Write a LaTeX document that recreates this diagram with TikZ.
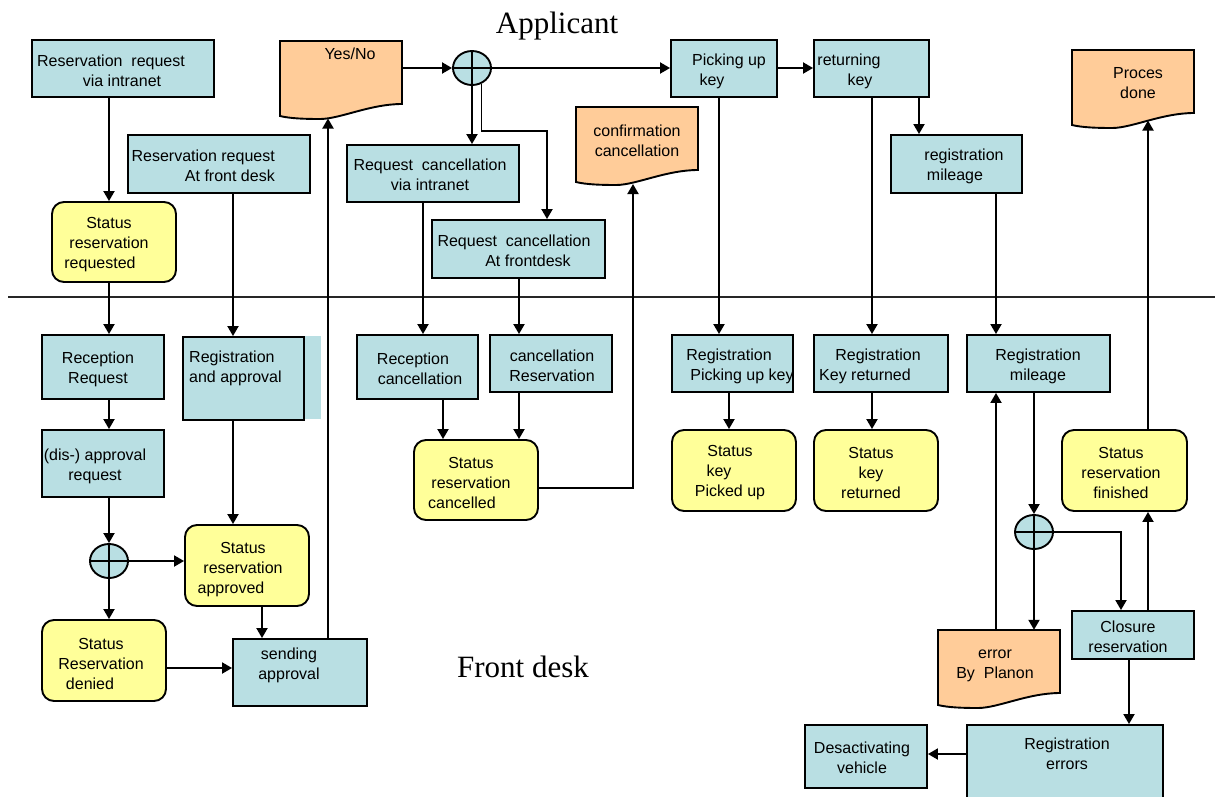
\documentclass[tikz,border=0pt]{standalone}
\usepackage{fontspec}
\setmainfont{Liberation Sans}
\newfontfamily\serifttl{Liberation Serif}
\usetikzlibrary{arrows.meta,shapes.geometric,fit}

\definecolor{boxblue}{RGB}{185,223,227}
\definecolor{stateyellow}{RGB}{255,255,153}
\definecolor{docorange}{RGB}{255,204,153}

% horizontal filler used to nudge single lines inside centred text
\newcommand\gap[1]{\rule{#1}{0pt}}

% document symbol: name, left x, top y (wavy lower edge)
\newcommand\docshape[3]{%
  \begin{scope}[shift={(#2,#3)}]
    \draw[docfill] (0,0) -- (122,0) -- (122,63)
      .. controls (90,63) and (60,78) .. (40,78)
      .. controls (25,78) and (10,77.5) .. (0,75) -- cycle;
    \node[inner sep=0pt, minimum width=122pt, minimum height=75pt] (#1) at (61,37.5) {};
  \end{scope}}

\begin{document}
\begin{tikzpicture}[x=1pt,y=-1pt,
  pbox/.style={draw, line width=1.9pt, fill=boxblue, inner sep=0pt},
  sbox/.style={draw, line width=1.9pt, fill=stateyellow, rounded corners=12pt, inner sep=0pt},
  docfill/.style={line width=1.9pt, fill=docorange},
  gw/.style={ellipse, draw, line width=1.9pt, fill=boxblue, minimum width=38pt,
    minimum height=34pt, inner sep=0pt,
    path picture={\draw[line width=1.9pt]
      (path picture bounding box.north) -- (path picture bounding box.south)
      (path picture bounding box.west) -- (path picture bounding box.east);}},
  txt/.style={inner sep=0pt, align=center, font=\fontsize{16}{20}\selectfont},
  ttl/.style={inner sep=0pt, anchor=base, font=\serifttl\fontsize{31}{36}\selectfont},
  arr/.style={line width=1.9pt, -{Triangle[length=10pt,width=11pt]}},
  lane/.style={line width=1.5pt, black!85},
]
\useasboundingbox (0,0) rectangle (1215,796);
\fill[white] (0,0) rectangle (1215,796);
\clip (0,0) rectangle (1215,796);

% ---------- swimlane titles and divider ----------
\node[ttl] (applicant) at (557,33) {Applicant};
\node[ttl] (frontdesk) at (523,677) {Front desk};
\coordinate (lane-l) at (8,297);
\coordinate (lane-r) at (1215,297);
\draw[lane] (lane-l) -- (lane-r);

% ---------- applicant lane ----------
\node[pbox, fit={(32,40)(214,97)}] (r1) {};
\node[txt] (r1-t) at (122,71) {Reservation\ \ request\gap{22pt}\\via intranet};

\docshape{yn}{280}{41}
\node[txt] (yn-t) at (350,54) {Yes/No};

\node[pbox, fit={(128,135)(310,193)}] (rfd) {};
\node[txt, align=right, anchor=east] (rfd-t) at (275,166) {Reservation request\\At front desk};

\node[sbox, fit={(52,202)(176,282)}] (srq) {};
\node[txt] (srq-t) at (109,245) {Status\\reservation\\requested\gap{18pt}};

\node[gw] (gw1) at (472,68) {};

\node[pbox, fit={(347,145)(519,202)}] (rcvi) {};
\node[txt] (rcvi-t) at (430,175) {Request\ \ cancellation\\via intranet};

\node[pbox, fit={(432,220)(605,278)}] (rcaf) {};
\node[txt] (rcaf-t) at (528,251) {Request\ \ cancellation\gap{28pt}\\At frontdesk};

\docshape{conf}{576}{107}
\node[txt] (conf-t) at (637,141) {confirmation\\cancellation};

\node[pbox, fit={(671,40)(777,97)}] (pick) {};
\node[txt] (pick-t) at (729,71) {Picking up\\key\gap{34pt}};

\node[pbox, fit={(814,40)(929,97)}] (ret) {};
\node[txt] (ret-t) at (849,71) {returning\\\gap{22pt}key};

\node[pbox, fit={(891,135)(1022,193)}] (regm) {};
\node[txt] (regm-t) at (964,166) {registration\\mileage\gap{18pt}};

\docshape{proc}{1072}{50}
\node[txt] (proc-t) at (1138,83) {Proces\\done};

% ---------- front desk lane ----------
\node[pbox, fit={(42,335)(164,399)}] (rr) {};
\node[txt] (rr-t) at (98,369) {Reception\\Request};

\fill[boxblue] (304,336) rectangle (321,419);
\node[pbox, fit={(183,337)(304,420)}] (rapp) {};
\node[txt, align=left, anchor=west] (rapp-t) at (189,368) {Registration\\and approval};

\node[pbox, fit={(42,430)(164,497)}] (dis) {};
\node[txt] (dis-t) at (95,466) {(dis-) approval\\request};

\node[gw] (gw2) at (109,561) {};

\node[sbox, fit={(185,525)(309,606)}] (sapp) {};
\node[txt] (sapp-t) at (243,570) {Status\\reservation\\approved\gap{24pt}};

\node[sbox, fit={(42,620)(166,701)}] (sden) {};
\node[txt] (sden-t) at (101,664) {Status\\Reservation\\denied\gap{22pt}};

\node[pbox, fit={(233,639)(367,706)}] (send) {};
\node[txt] (send-t) at (289,665) {sending\\approval};

\node[pbox, fit={(357,335)(478,399)}] (rcan) {};
\node[txt] (rcan-t) at (420,369) {Reception\gap{14pt}\\cancellation};

\node[pbox, fit={(490,335)(612,392)}] (cres) {};
\node[txt] (cres-t) at (552,366) {cancellation\\Reservation};

\node[sbox, fit={(414,440)(538,520)}] (scan) {};
\node[txt] (scan-t) at (471,483) {Status\\reservation\\cancelled\gap{18pt}};

\node[pbox, fit={(672,335)(793,392)}] (rpk) {};
\node[txt] (rpk-t) at (742,366) {Registration\gap{26pt}\\Picking up key};

\node[sbox, fit={(672,430)(796,511)}] (skp) {};
\node[txt] (skp-t) at (730,473) {Status\\key\gap{22pt}\\Picked up};

\node[pbox, fit={(814,335)(948,392)}] (rkr) {};
\node[txt] (rkr-t) at (865,366) {\gap{26pt}Registration\\Key returned};

\node[sbox, fit={(814,430)(938,511)}] (skr) {};
\node[txt] (skr-t) at (871,473) {Status\\key\\returned};

\node[pbox, fit={(967,335)(1110,392)}] (rml) {};
\node[txt] (rml-t) at (1038,366) {Registration\\mileage};

\node[gw] (gw3) at (1034,532) {};

\node[sbox, fit={(1062,430)(1187,511)}] (sfin) {};
\node[txt] (sfin-t) at (1121,473) {Status\\reservation\\finished};

\docshape{err}{938}{630}
\node[txt] (err-t) at (995,666) {error\\By\ \ Planon};

\node[pbox, fit={(1072,611)(1194,659)}] (clos) {};
\node[txt] (clos-t) at (1128,637) {Closure\\reservation};

\node[pbox, fit={(967,725)(1163,810)}] (rerr) {};
\node[txt] (rerr-t) at (1067,754) {Registration\\errors};

\node[pbox, fit={(805,725)(927,788)}] (desa) {};
\node[txt] (desa-t) at (862,758) {Desactivating\\vehicle};

% ---------- connector ends on wavy document edges and bends ----------
\coordinate (yn-in) at (328,118.5);
\coordinate (conf-in) at (633,184);
\coordinate (proc-in) at (1148,120.5);
\coordinate (bend-cancel) at (547,131);

% ---------- connectors ----------
\draw[arr] (r1.south -| 109,0) -- (srq.north -| 109,0);
\draw[arr] (srq.south -| 109,0) -- (rr.north -| 109,0);
\draw[arr] (rfd.south -| 233,0) -- (rapp.north -| 233,0);
\draw[arr] (rr.south -| 109,0) -- (dis.north -| 109,0);
\draw[arr] (dis.south -| gw2.north) -- (gw2.north);
\draw[arr] (gw2.east) -- (gw2.east -| sapp.west);
\draw[arr] (gw2.south) -- (gw2.south |- sden.north);
\draw[arr] (rapp.south -| 233,0) -- (sapp.north -| 233,0);
\draw[arr] (sapp.south -| 262,0) -- (send.north -| 262,0);
\draw[arr] (sden.east |- 0,668) -- (send.west |- 0,668);
\draw[arr] (send.north -| yn-in) -- (yn-in);

\draw[arr] (yn.east |- gw1) -- (gw1.west);
\draw[arr] (gw1.east) -- (pick.west |- gw1);
\draw[arr] (pick.east |- gw1) -- (ret.west |- gw1);
\draw[arr] (gw1.south) -- (rcvi.north -| gw1.south);
\draw[arr] (gw1.-59) |- (bend-cancel) -- (rcaf.north -| bend-cancel);

\draw[arr] (rcvi.south -| 423,0) -- (rcan.north -| 423,0);
\draw[arr] (rcaf.south -| 519,0) -- (cres.north -| 519,0);
\draw[arr] (rcan.south -| 443,0) -- (scan.north -| 443,0);
\draw[arr] (cres.south -| 519,0) -- (scan.north -| 519,0);
\draw[arr] (scan.east |- 0,488) -| (conf-in);

\draw[arr] (pick.south -| 719,0) -- (rpk.north -| 719,0);
\draw[arr] (rpk.south -| 729,0) -- (skp.north -| 729,0);
\draw[arr] (ret.south -| 872,0) -- (rkr.north -| 872,0);
\draw[arr] (ret.south -| 919,0) -- (regm.north -| 919,0);
\draw[arr] (rkr.south -| 872,0) -- (skr.north -| 872,0);
\draw[arr] (regm.south -| 996,0) -- (rml.north -| 996,0);

\draw[arr] (rml.south -| gw3.north) -- (gw3.north);
\draw[arr] (gw3.south) -- (err.north -| gw3.south);
\draw[arr] (err.north -| 996,0) -- (rml.south -| 996,0);
\draw[arr] (gw3.east) -| (clos.north -| 1121,0);
\draw[arr] (clos.north -| 1148,0) -- (sfin.south -| 1148,0);
\draw[arr] (sfin.north -| proc-in) -- (proc-in);
\draw[arr] (clos.south -| 1129,0) -- (rerr.north -| 1129,0);
\draw[arr] (rerr.west |- 0,754) -- (desa.east |- 0,754);
\end{tikzpicture}
\end{document}
